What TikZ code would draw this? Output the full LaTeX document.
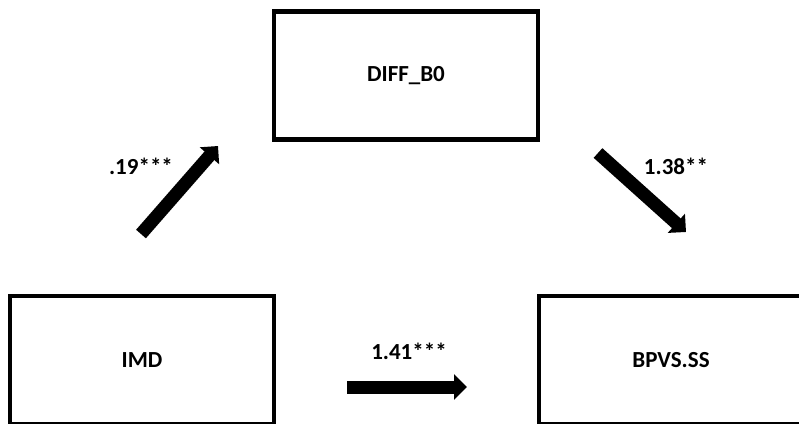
\documentclass[tikz,border=0pt]{standalone}
\usepackage{fontspec}
\setmainfont{Carlito}
\usetikzlibrary{arrows.meta}

\begin{document}
\begin{tikzpicture}
  [x=1pt,y=-1pt,
   every node/.style={font=\fontsize{23}{27}\selectfont\bfseries},
   var/.style={draw,line width=4.5pt,minimum width=264pt,minimum height=128pt,inner sep=0pt},
   arr/.style={line width=13pt,-{Triangle[length=13pt,width=25pt]}}]
  \useasboundingbox (0,0) rectangle (799,423);

  \node[var] (diff) at (406,75.5) {DIFF\_B0};
  \node[var] (imd)  at (142,360)  {IMD};
  \node[var] (bpvs) at (671,360)  {BPVS.SS};

  \coordinate (a1s) at (141,234);
  \coordinate (a1e) at (218,146);
  \coordinate (a2s) at (598,153);
  \coordinate (a2e) at (686,232);
  \coordinate (a3s) at (347,387);
  \coordinate (a3e) at (467,387);

  \foreach \from/\to in {a1s/a1e,a2s/a2e,a3s/a3e}
    \draw[arr] (\from) -- (\to);

  \node (l1) at (141,166) {.19***};
  \node (l2) at (676,166) {1.38**};
  \node (l3) at (409,351) {1.41***};
\end{tikzpicture}
\end{document}
